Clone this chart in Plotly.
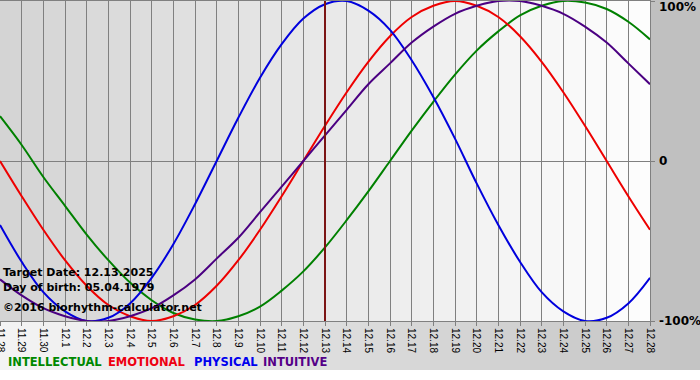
import plotly.graph_objects as go

# ---------------- data ----------------
dates = ['11.28', '11.29', '11.30', '12.1', '12.2', '12.3', '12.4', '12.5', '12.6', '12.7',
         '12.8', '12.9', '12.10', '12.11', '12.12', '12.13', '12.14', '12.15', '12.16', '12.17',
         '12.18', '12.19', '12.20', '12.21', '12.22', '12.23', '12.24', '12.25', '12.26', '12.27',
         '12.28']

intellectual = [0.28, 0.10, -0.10, -0.28, -0.46, -0.62, -0.76, -0.87, -0.95, -0.99,
                -1.00, -0.97, -0.91, -0.81, -0.69, -0.54, -0.37, -0.19, 0.00, 0.19,
                0.37, 0.54, 0.69, 0.81, 0.91, 0.97, 1.00, 0.99, 0.95, 0.87,
                0.76]
emotional = [0.00, -0.22, -0.43, -0.62, -0.78, -0.90, -0.97, -1.00, -0.97, -0.90,
             -0.78, -0.62, -0.43, -0.22, 0.00, 0.22, 0.43, 0.62, 0.78, 0.90,
             0.97, 1.00, 0.97, 0.90, 0.78, 0.62, 0.43, 0.22, 0.00, -0.22,
             -0.43]
physical = [-0.40, -0.63, -0.82, -0.94, -1.00, -0.98, -0.89, -0.73, -0.52, -0.27,
            0.00, 0.27, 0.52, 0.73, 0.89, 0.98, 1.00, 0.94, 0.82, 0.63,
            0.40, 0.14, -0.14, -0.40, -0.63, -0.82, -0.94, -1.00, -0.98, -0.89,
            -0.73]
intuitive = [-0.74, -0.84, -0.92, -0.97, -1.00, -1.00, -0.97, -0.92, -0.84, -0.74,
             -0.61, -0.48, -0.32, -0.16, 0.00, 0.16, 0.32, 0.48, 0.61, 0.74,
             0.84, 0.92, 0.97, 1.00, 1.00, 0.97, 0.92, 0.84, 0.74, 0.61,
             0.48]

series_names = ['INTELLECTUAL', 'EMOTIONAL', 'PHYSICAL', 'INTUITIVE']
series_values = [intellectual, emotional, physical, intuitive]
series_colors = ['#008000', '#ee0000', '#0000dd', '#4b0082']
legend_colors = ['#008800', '#ee0011', '#0000ee', '#550088']

y_tick_vals = [1, 0, -1]
y_tick_text = ['100%', '0', '-100%']

target_date = '12.13'
target_text = 'Target Date: 12.13.2025'
birth_text = 'Day of birth: 05.04.1979'
copyright_text = '\u00a92016 biorhythm-calculator.net'

# ---------------- layout geometry ----------------
W, H = 700, 380
ML, MR, MT, MB = 0, 50, 1, 59
PW, PH = W - ML - MR, H - MT - MB


def px(x):
    return (x - ML) / PW


def py(y):
    return (H - MB - y) / PH


fig = go.Figure()

for name, vals, col in zip(series_names, series_values, series_colors):
    fig.add_trace(go.Scatter(x=dates, y=vals, mode='lines', name=name,
                             line=dict(color=col, width=2, shape='spline', smoothing=1.0),
                             hoverinfo='skip'))

shapes = []
# plot-area gradient (grey left -> white right)
n = 65
for i in range(n):
    v = int(round(212 + (253 - 212) * i / (n - 1)))
    x0 = i * PW / n
    x1 = (i + 1) * PW / n + 1
    shapes.append(dict(type='rect', xref='paper', yref='paper', x0=px(x0), x1=px(min(x1, PW)),
                       y0=0, y1=1, fillcolor=f'rgb({v},{v},{v})', line=dict(width=0),
                       layer='below'))
# right margin
shapes.append(dict(type='rect', xref='paper', yref='paper', x0=px(PW), x1=px(W),
                   y0=py(H - MB), y1=py(0), fillcolor='#c0c0c0', line=dict(width=0),
                   layer='below'))
# label strip gradient (light left -> grey right)
n2 = 70
for i in range(n2):
    v = int(round(244 + (196 - 244) * i / (n2 - 1)))
    x0 = i * W / n2
    x1 = (i + 1) * W / n2 + 1
    shapes.append(dict(type='rect', xref='paper', yref='paper', x0=px(x0), x1=px(min(x1, W)),
                       y0=py(370), y1=py(H - MB), fillcolor=f'rgb({v},{v},{v})',
                       line=dict(width=0), layer='below'))
# target date line (category index on the x axis)
target_idx = dates.index(target_date)
shapes.append(dict(type='line', xref='x', yref='paper', x0=target_idx, x1=target_idx,
                   y0=0, y1=1, line=dict(color='#7b1414', width=2), layer='above'))

annotations = []
bold_font = 'DejaVu Sans'
for txt, ycen in [(target_text, 272), (birth_text, 287), (copyright_text, 307)]:
    annotations.append(dict(text=f'<b>{txt}</b>', xref='paper', yref='paper', x=px(1), y=py(ycen),
                            xanchor='left', yanchor='middle', showarrow=False,
                            font=dict(family=bold_font, size=11, color='#000000')))
for txt, ycen in zip(y_tick_text, [7, 161, 321]):
    annotations.append(dict(text=f'<b>{txt}</b>', xref='paper', yref='paper', x=px(657), y=py(ycen),
                            xanchor='left', yanchor='middle', showarrow=False,
                            font=dict(family=bold_font, size=12, color='#000000')))
for txt, col, xl in zip(series_names, legend_colors, [6, 106, 192, 261]):
    annotations.append(dict(text=f'<b>{txt}</b>', xref='paper', yref='paper', x=px(xl), y=py(362),
                            xanchor='left', yanchor='middle', showarrow=False,
                            font=dict(family=bold_font, size=11.5, color=col)))

fig.update_layout(
    width=W, height=H,
    margin=dict(l=ML, r=MR, t=MT, b=MB, pad=0),
    paper_bgcolor='#ffffff',
    plot_bgcolor='rgba(0,0,0,0)',
    showlegend=False,
    shapes=shapes,
    annotations=annotations,
    xaxis=dict(type='category', range=[0, len(dates) - 1], showgrid=True,
               gridcolor='#808080', gridwidth=1, ticks='outside', ticklen=4,
               tickcolor='#808080', tickangle=90,
               tickfont=dict(family='Liberation Sans', size=10, color='#000000'),
               showline=True, linecolor='#808080', linewidth=1, mirror=True,
               zeroline=False, automargin=False, fixedrange=True),
    yaxis=dict(range=[-1, 1], side='right', tickvals=y_tick_vals, showticklabels=False,
               ticks='outside', ticklen=4, tickcolor='#808080', showgrid=True,
               gridcolor='#808080', gridwidth=1, zeroline=False, showline=True,
               linecolor='#808080', mirror=True, automargin=False, fixedrange=True),
)

fig.write_html('out.html', config={'displayModeBar': False},
               post_script="document.body.style.margin='0';"
                           "document.body.style.overflow='hidden';")
